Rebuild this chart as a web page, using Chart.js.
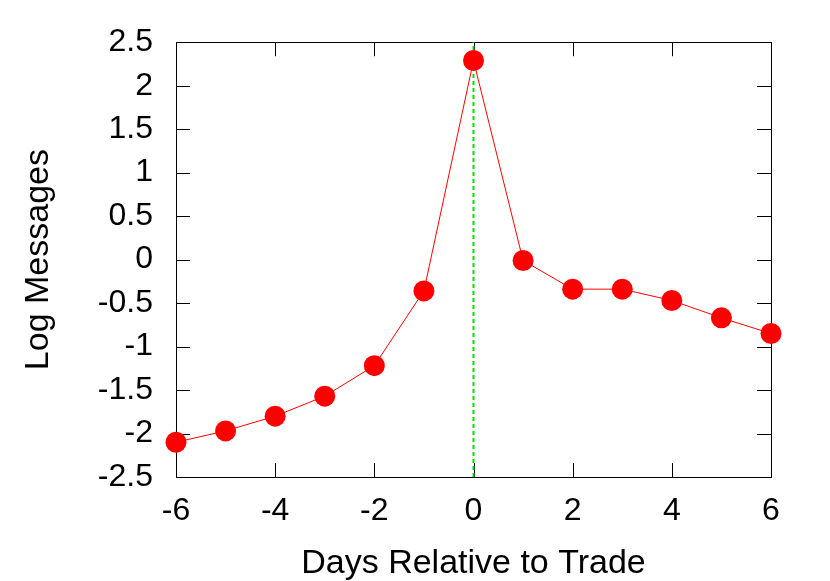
<!DOCTYPE html>
<html>
<head>
<meta charset="utf-8">
<script src="https://cdn.jsdelivr.net/npm/chart.js@4/dist/chart.umd.min.js"></script>
<style>
  body { margin: 0; background: #fff; }
  canvas { display: block; }
</style>
</head>
<body>
<canvas id="chart" width="830" height="581"></canvas>
<script>
const days = [-6, -5, -4, -3, -2, -1, 0, 1, 2, 3, 4, 5, 6];
const logMessages = [-2.10, -1.97, -1.80, -1.57, -1.22, -0.36, 2.29, -0.01, -0.34, -0.34, -0.47, -0.67, -0.85];
const tradeDay = 0;
const xRange = [-6, 6];
const yRange = [-2.5, 2.5];

const font = 'Liberation Sans, Arial, Helvetica, sans-serif';

// gnuplot-like frame with inward ticks on all four sides
const frame = {
    id: 'frame',
    beforeDatasetsDraw(chart) {
        const { ctx, chartArea: a, scales } = chart;
        const len = 14;
        ctx.save();
        ctx.strokeStyle = '#000';
        ctx.lineWidth = 1;
        ctx.beginPath();
        scales.x.ticks.forEach(t => {
            const px = Math.round(scales.x.getPixelForValue(t.value)) + 0.5;
            ctx.moveTo(px, a.bottom); ctx.lineTo(px, a.bottom - len);
            ctx.moveTo(px, a.top); ctx.lineTo(px, a.top + len);
        });
        scales.y.ticks.forEach(t => {
            const py = Math.round(scales.y.getPixelForValue(t.value)) + 0.5;
            ctx.moveTo(a.left, py); ctx.lineTo(a.left + len, py);
            ctx.moveTo(a.right, py); ctx.lineTo(a.right - len, py);
        });
        ctx.stroke();
        ctx.strokeRect(Math.round(a.left) + 0.5, Math.round(a.top) + 0.5,
            Math.round(a.right - a.left), Math.round(a.bottom - a.top));
        ctx.restore();
    }
};

new Chart(document.getElementById('chart'), {
    type: 'line',
    data: {
        datasets: [{
            data: days.map((d, i) => ({ x: d, y: logMessages[i] })),
            borderColor: '#ff0000',
            backgroundColor: '#ff0000',
            borderWidth: 1,
            pointRadius: 10.5,
            pointHoverRadius: 10.5,
            pointBorderWidth: 0,
            clip: false
        }, {
            data: [{ x: tradeDay, y: yRange[0] }, { x: tradeDay, y: yRange[1] }],
            borderColor: '#00dd00',
            borderWidth: 2,
            borderDash: [4, 3],
            pointRadius: 0
        }]
    },
    options: {
        responsive: false,
        animation: false,
        layout: { padding: { top: 41, right: 59, left: 0, bottom: 0 } },
        plugins: { legend: { display: false }, tooltip: { enabled: false } },
        scales: {
            x: {
                type: 'linear',
                min: xRange[0],
                max: xRange[1],
                grid: { display: false, drawTicks: false },
                border: { display: false },
                ticks: {
                    stepSize: 2,
                    padding: 15,
                    color: '#000',
                    font: { family: font, size: 32 },
                    maxRotation: 0,
                    callback: v => String(v)
                },
                title: {
                    display: true,
                    text: 'Days Relative to Trade',
                    color: '#000',
                    font: { family: font, size: 34, lineHeight: 1 },
                    padding: { top: 0, bottom: 0 }
                },
                afterFit: s => { s.height = 104; }
            },
            y: {
                min: yRange[0],
                max: yRange[1],
                grid: { display: false, drawTicks: false },
                border: { display: false },
                ticks: {
                    stepSize: 0.5,
                    padding: 23,
                    color: '#000',
                    font: { family: font, size: 32 },
                    callback: v => String(v)
                },
                title: {
                    display: true,
                    text: 'Log Messages',
                    color: '#000',
                    font: { family: font, size: 34 },
                    padding: { top: 18, bottom: 0 }
                },
                afterFit: s => { s.width = 176; }
            }
        }
    },
    plugins: [frame]
});
</script>
</body>
</html>
